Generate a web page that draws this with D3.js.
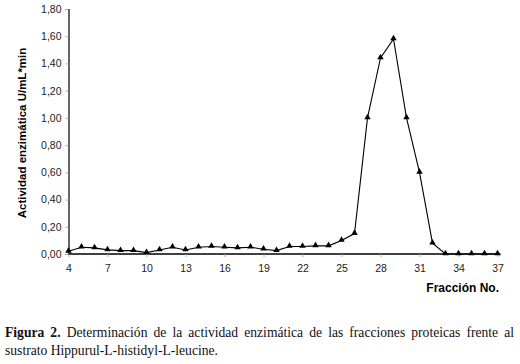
<!DOCTYPE html>
<html>
<head>
<meta charset="utf-8">
<script src="https://cdn.jsdelivr.net/npm/d3@7"></script>
<style>
  body { margin: 0; background: #fff; }
  svg { display: block; }
</style>
</head>
<body>
<svg class="target" width="520" height="364"></svg>
<script>
// fractions 4..37 and the measured activity
var fractions = d3.range(4, 38);
var activity = [0.02, 0.05, 0.045, 0.03, 0.025, 0.025, 0.01, 0.03, 0.05, 0.03,
                0.05, 0.055, 0.05, 0.045, 0.05, 0.035, 0.025, 0.055, 0.055, 0.06,
                0.06, 0.10, 0.15, 1.00, 1.44, 1.58, 1.00, 0.60, 0.08, 0.00,
                0.00, 0.00, 0.00, 0.00];
var y_ticks = [0, 0.2, 0.4, 0.6, 0.8, 1.0, 1.2, 1.4, 1.6, 1.8];
var x_ticks = [4, 7, 10, 13, 16, 19, 22, 25, 28, 31, 34, 37];

var caption_bold = "Figura 2.";
var caption_1 = "Determinación de la actividad enzimática de las fracciones proteicas frente al";
var caption_2 = "sustrato Hippurul-L-histidyl-L-leucine.";

var svg = d3.select(".target");
var sans = "'Liberation Sans', Arial, sans-serif";
var serif = "'Liberation Serif', 'Times New Roman', serif";

var x = d3.scaleLinear().domain([4, 37]).range([68.5, 497.5]);
var y = d3.scaleLinear().domain([0, 1.8]).range([254, 9]);

var fmt = function (d) { return d3.format(".2f")(d).replace(".", ","); };

// y axis
var gy = svg.append("g")
    .attr("transform", "translate(" + x(4) + ",0)")
    .call(d3.axisLeft(y).tickValues(y_ticks).tickSize(3).tickPadding(4).tickFormat(fmt));
gy.select(".domain").attr("stroke", "#000").attr("stroke-width", 1.2);
gy.selectAll(".tick line").attr("stroke", "#aaa");
gy.selectAll("text").style("font-family", sans).style("font-size", "10.5px").attr("fill", "#222");

// x axis
var gx = svg.append("g")
    .attr("transform", "translate(0," + y(0) + ")")
    .call(d3.axisBottom(x).tickValues(x_ticks).tickSize(3).tickPadding(8).tickFormat(d3.format("d")));
gx.select(".domain").attr("stroke", "#000").attr("stroke-width", 1.5).attr("d", "M" + x(4) + ",0H" + (x(37) + 3));
gx.selectAll(".tick line").attr("stroke", "#aaa");
gx.selectAll("text").style("font-family", sans).style("font-size", "10.5px").attr("fill", "#222");

// line + triangles
var pts = fractions.map(function (f, i) { return [f, activity[i]]; });
svg.append("path")
    .datum(pts)
    .attr("fill", "none")
    .attr("stroke", "#000")
    .attr("stroke-width", 1.1)
    .attr("d", d3.line().x(function (d) { return x(d[0]); }).y(function (d) { return y(d[1]); }));

var tri = d3.symbol().type(d3.symbolTriangle).size(18);
svg.selectAll(".mark")
    .data(pts)
    .enter()
    .append("path")
    .attr("class", "mark")
    .attr("d", tri)
    .attr("fill", "#000")
    .attr("transform", function (d) { return "translate(" + x(d[0]) + "," + (y(d[1]) - 0.5) + ")"; });

// axis titles
svg.append("text")
    .attr("transform", "translate(26,133) rotate(-90)")
    .attr("text-anchor", "middle")
    .style("font-family", sans)
    .style("font-size", "11.5px")
    .style("font-weight", "bold")
    .text("Actividad enzimática U/mL*min");

svg.append("text")
    .attr("x", 499)
    .attr("y", 292)
    .attr("text-anchor", "end")
    .style("font-family", sans)
    .style("font-size", "12px")
    .style("font-weight", "bold")
    .text("Fracción No.");

// caption, first line justified to the full width
var cap = svg.append("text")
    .attr("x", 5)
    .attr("y", 337)
    .style("font-family", serif)
    .style("font-size", "13.6px")
    .attr("fill", "#111");
cap.append("tspan").style("font-weight", "bold").text(caption_bold + " ");
cap.append("tspan").text(caption_1);

var words = (caption_bold + " " + caption_1).split(" ").length - 1;
var w = cap.node().getComputedTextLength();
cap.style("word-spacing", ((514 - 5 - w) / words) + "px");

svg.append("text")
    .attr("x", 5)
    .attr("y", 355)
    .style("font-family", serif)
    .style("font-size", "13.6px")
    .attr("fill", "#111")
    .text(caption_2);
</script>
</body>
</html>
